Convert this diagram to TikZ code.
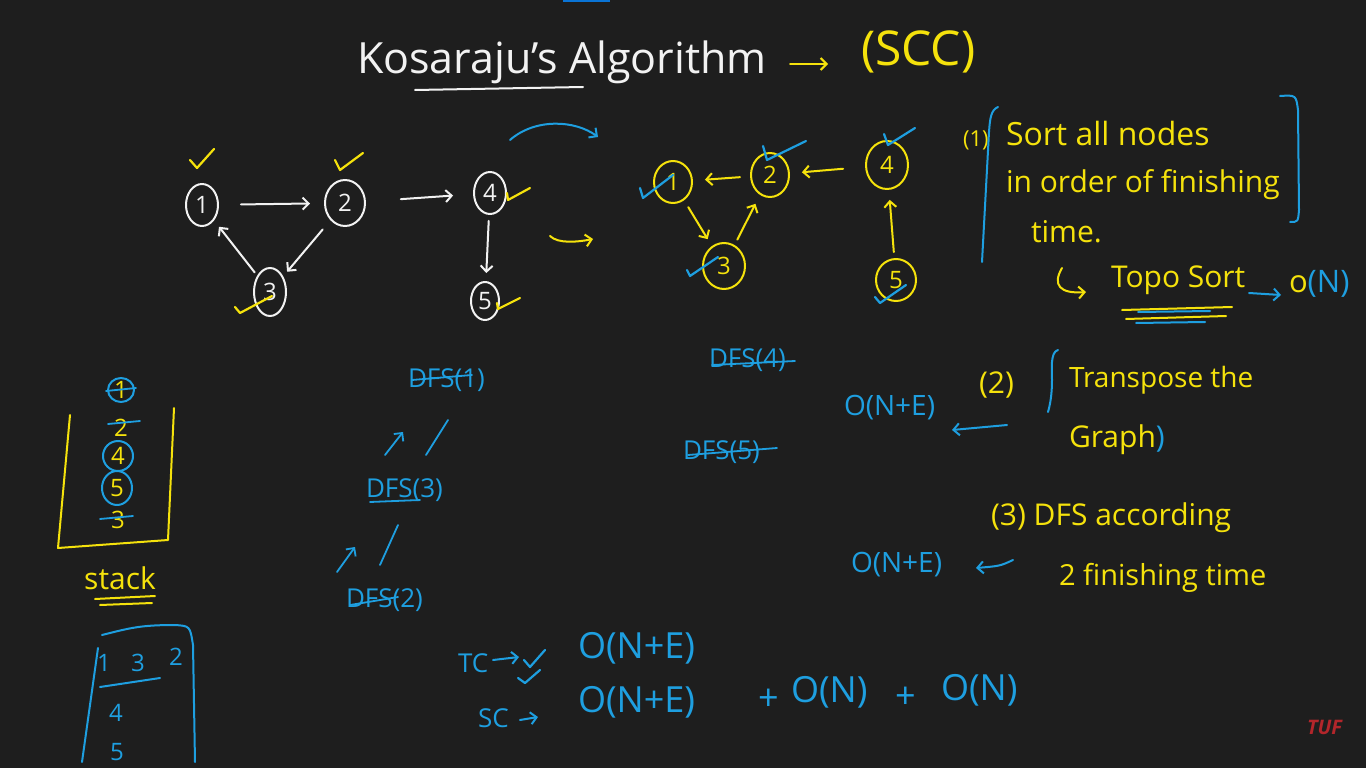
\documentclass[tikz,border=0pt]{standalone}
\usepackage{fontspec}
\setmainfont{Open Sans}
\usetikzlibrary{arrows.meta, shapes.geometric}
\definecolor{board}{HTML}{1E1E1E}
\definecolor{chalk}{HTML}{F2F2F2}
\definecolor{cyellow}{HTML}{F5E20C}
\definecolor{cblue}{HTML}{1E9FE0}
\definecolor{cred}{HTML}{B3262B}
\definecolor{cbar}{HTML}{0A74D6}
\newcommand{\handsz}[1]{\fontsize{#1}{#1}\selectfont}
\tikzset{
  every picture/.style={line width=2pt, line cap=round, line join=round},
  vtx/.style={draw=#1, text=#1, ellipse, minimum width=32pt, minimum height=42pt, inner sep=0pt, font=\handsz{24}},
  vtx/.default=chalk,
  link/.style={draw=#1, -{Straight Barb[length=6pt, width=12pt]}, shorten <=10pt, shorten >=10pt},
  link/.default=chalk,
  chk/.style={draw=#1, line width=2.2pt},
  hand/.style={text=#1, inner sep=0pt, anchor=west, font=\handsz{30}},
  hand/.default=cyellow,
  strike/.style={draw=cblue, line width=1.8pt},
}

\begin{document}
\begin{tikzpicture}[x=1pt, y=-1pt]
  \fill[board] (0,0) rectangle (1366,768);
  \useasboundingbox (0,0) rectangle (1366,768);
  \fill[cbar] (563,0) rectangle (610,2);

  % title
  \node[hand=chalk, font=\handsz{43}] (title) at (356,62) {Kosaraju's Algorithm};
  \draw[chalk] (415,90) -- (583,87);
  \coordinate (ta) at (790,64);
  \coordinate (tb) at (828,64);
  \draw[link=cyellow, shorten <=0pt, shorten >=0pt] (ta) -- (tb);
  \node[hand, font=\handsz{48}] (scc) at (860,52) {(SCC)};

  % original graph
  \node[vtx] (a1) at (202,205) {1};
  \node[vtx, minimum width=40pt, minimum height=46pt] (a2) at (345,203) {2};
  \node[vtx] (a4) at (490,193) {4};
  \node[vtx, minimum width=28pt, minimum height=38pt] (a5) at (485,301) {5};
  \node[vtx, minimum height=48pt] (a3) at (270,292) {3};
  \draw[link, shorten <=22pt, shorten >=14pt] (a1) -- (a2);
  \draw[link, shorten <=35pt, shorten >=20pt] (a2) -- (a4);
  \draw[link, shorten <=12pt, shorten >=6pt] (a2) -- (a3);
  \draw[link, shorten <=4pt, shorten >=8pt] (a3) -- (a1);
  \draw[link, shorten <=6pt, shorten >=8pt] (a4) -- (a5);
  \draw[chk=cyellow] (190,160) -- (197,168) -- (214,149);
  \draw[chk=cyellow] (335,160) -- (340,170) -- (363,153);
  \draw[chk=cyellow] (235,307) -- (240,313) -- (272,296);
  \draw[chk=cyellow] (507,193) -- (508,200) -- (530,188);
  \draw[chk=cyellow] (497,303) -- (498,309) -- (520,298);
  \coordinate (ca) at (510,140);
  \coordinate (cb) at (598,137);
  \draw[link=cblue, shorten <=0pt, shorten >=0pt] (ca) .. controls (535,118) and (575,120) .. (cb);
  \coordinate (ya) at (550,236);
  \coordinate (yb) at (593,239);
  \draw[link=cyellow, shorten <=0pt, shorten >=0pt] (ya) .. controls (558,244) and (578,242) .. (yb);

  % transposed graph
  \node[vtx=cyellow, minimum width=38pt] (b1) at (673,182) {1};
  \node[vtx=cyellow, minimum width=38pt, minimum height=44pt] (b2) at (770,175) {2};
  \node[vtx=cyellow, minimum width=42pt, minimum height=48pt] (b4) at (887,165) {4};
  \node[vtx=cyellow, minimum width=42pt, minimum height=46pt] (b3) at (724,266) {3};
  \node[vtx=cyellow, minimum width=40pt] (b5) at (896,280) {5};
  \draw[link=cyellow, shorten <=10pt, shorten >=12pt] (b2) -- (b1);
  \draw[link=cyellow, shorten <=22pt, shorten >=12pt] (b4) -- (b2);
  \draw[link=cyellow, shorten <=8pt, shorten >=8pt] (b1) -- (b3);
  \draw[link=cyellow, shorten <=6pt, shorten >=10pt] (b3) -- (b2);
  \draw[link=cyellow, shorten <=6pt, shorten >=10pt] (b5) -- (b4);
  \draw[chk=cblue] (640,188) -- (643,198) -- (673,175);
  \draw[chk=cblue] (763,146) -- (767,160) -- (806,141);
  \draw[chk=cblue] (884,134) -- (888,145) -- (915,128);
  \draw[chk=cblue] (687,270) -- (690,276) -- (718,257);
  \draw[chk=cblue] (875,297) -- (880,303) -- (906,285);

  % step 1
  \node[hand, font=\handsz{22}] (one) at (962,140) {(1)};
  \draw[cblue] (998,107) .. controls (991,110) and (990,118) .. (989,132) -- (982,262);
  \draw[cblue] (1280,96) .. controls (1296,95) .. (1298,110) -- (1299,210) .. controls (1298,222) .. (1290,222);
  \node[hand, font=\handsz{32}] (s1a) at (1005,133) {Sort all nodes};
  \node[hand] (s1b) at (1005,185) {in order of finishing};
  \node[hand] (s1c) at (1030,232) {time.};
  \coordinate (ha) at (1062,268);
  \coordinate (hb) at (1086,292);
  \draw[link=cyellow, shorten <=0pt, shorten >=0pt] (ha) .. controls (1052,285) and (1060,294) .. (hb);
  \node[hand, font=\handsz{30}] (topo) at (1110,280) {Topo Sort};
  \draw[cyellow] (1122,310) -- (1232,307);
  \draw[cblue] (1138,312) -- (1210,311);
  \draw[cyellow] (1126,319) -- (1226,316);
  \draw[cblue] (1136,323) -- (1205,322);
  \coordinate (oa) at (1249,293);
  \coordinate (ob) at (1281,295);
  \draw[link=cblue, shorten <=0pt, shorten >=0pt] (oa) -- (ob);
  \node[hand=cblue, font=\handsz{31}] (topon) at (1288,284) {\textcolor{cyellow}{o}(N)};

  % step 2
  \node[hand, font=\handsz{30}] (two) at (978,385) {(2)};
  \draw[cblue] (1058,350) .. controls (1050,352) and (1052,370) .. (1052,380) .. controls (1052,395) and (1050,405) .. (1048,412);
  \node[hand, font=\handsz{28}] (s2a) at (1068,380) {Transpose the};
  \node[hand, font=\handsz{30}] (s2b) at (1068,440) {Graph\textcolor{cblue}{)}};
  \node[hand=cblue, font=\handsz{28}] (c2) at (843,408) {O(N+E)};
  \coordinate (aa) at (1007,425);
  \coordinate (ab) at (952,430);
  \draw[link=cblue, shorten <=0pt, shorten >=0pt] (aa) -- (ab);

  % step 3
  \node[hand, font=\handsz{30}] (s3a) at (990,518) {(3) DFS according};
  \node[hand, font=\handsz{29}] (s3b) at (1058,578) {2 finishing time};
  \node[hand=cblue, font=\handsz{28}] (c3) at (850,565) {O(N+E)};
  \coordinate (ba) at (1013,560);
  \coordinate (bb) at (976,568);
  \draw[link=cblue, shorten <=0pt, shorten >=0pt] (ba) .. controls (1000,566) .. (bb);

  % stack
  \draw[cyellow] (70,415) -- (58,548) -- (168,540) -- (174,408);
  \node[hand, anchor=center, font=\handsz{24}] (k1) at (121,390) {1};
  \node[hand, anchor=center, font=\handsz{24}] (k2) at (121,428) {2};
  \node[hand, anchor=center, font=\handsz{24}] (k4) at (118,456) {4};
  \node[hand, anchor=center, font=\handsz{24}] (k5) at (117,488) {5};
  \node[hand, anchor=center, font=\handsz{24}] (k3) at (118,520) {3};
  \draw[cblue] (k1) ellipse (13 and 12);
  \draw[strike] (106,391) -- (136,388);
  \draw[strike] (108,424) -- (140,421);
  \draw[cblue] (k4) ellipse (15 and 15);
  \draw[cblue] (k5) ellipse (15 and 17);
  \draw[strike] (100,519) -- (133,516);
  \node[hand, anchor=center, font=\handsz{30}] (stk) at (120,578) {stack};
  \draw[cyellow] (95,599) -- (155,596);
  \draw[cyellow] (100,605) -- (152,603);

  % component list
  \draw[cblue] (102,635) .. controls (130,628) and (140,625) .. (175,625) .. controls (190,626) .. (193,645) -- (195,762);
  \draw[cblue] (98,648) -- (82,762);
  \node[hand=cblue, anchor=center, font=\handsz{24}] (r1) at (104,663) {1};
  \node[hand=cblue, anchor=center, font=\handsz{24}] (r3) at (138,663) {3};
  \node[hand=cblue, anchor=center, font=\handsz{24}] (r2) at (176,657) {2};
  \draw[cblue] (100,687) -- (160,678);
  \node[hand=cblue, anchor=center, font=\handsz{24}] (r4) at (116,713) {4};
  \node[hand=cblue, anchor=center, font=\handsz{24}] (r5) at (117,752) {5};

  % dfs calls
  \node[hand=cblue, font=\handsz{26}] (d1) at (407,380) {DFS(1)};
  \draw[strike] (412,380) -- (472,375);
  \coordinate (u1) at (385,455);
  \coordinate (u2) at (403,432);
  \draw[link=cblue, shorten <=0pt, shorten >=0pt, line width=1.8pt] (u1) -- (u2);
  \draw[cblue, line width=1.8pt] (426,455) -- (448,420);
  \node[hand=cblue, font=\handsz{26}] (d3) at (365,490) {DFS(3)};
  \draw[strike] (370,502) -- (420,500);
  \coordinate (v1) at (337,572);
  \coordinate (v2) at (355,547);
  \draw[link=cblue, shorten <=0pt, shorten >=0pt, line width=1.8pt] (v1) -- (v2);
  \draw[cblue, line width=1.8pt] (380,565) -- (398,525);
  \node[hand=cblue, font=\handsz{26}] (d2) at (345,600) {DFS(2)};
  \draw[strike] (350,605) -- (398,597);
  \node[hand=cblue, font=\handsz{26}] (d4) at (708,360) {DFS(4)};
  \draw[strike] (712,365) -- (795,361);
  \node[hand=cblue, font=\handsz{26}] (d5) at (682,452) {DFS(5)};
  \draw[strike] (688,455) -- (777,448);

  % complexity
  \node[hand=cblue, font=\handsz{26}] (tc) at (457,663) {TC};
  \coordinate (w1) at (493,660);
  \coordinate (w2) at (519,657);
  \draw[link=cblue, shorten <=0pt, shorten >=0pt] (w1) -- (w2);
  \draw[chk=cblue] (524,660) -- (530,667) -- (545,650);
  \draw[chk=cblue] (518,678) -- (525,683) -- (540,670);
  \node[hand=cblue, font=\handsz{36}] (tcv) at (577,648) {O(N+E)};
  \node[hand=cblue, font=\handsz{26}] (sc) at (477,718) {SC};
  \coordinate (z1) at (520,720);
  \coordinate (z2) at (538,717);
  \draw[link=cblue, shorten <=0pt, shorten >=0pt] (z1) -- (z2);
  \node[hand=cblue, font=\handsz{36}] (scv) at (577,702) {O(N+E)};
  \node[hand=cblue, font=\handsz{36}] (scp1) at (757,700) {+};
  \node[hand=cblue, font=\handsz{36}] (scn1) at (790,692) {O(N)};
  \node[hand=cblue, font=\handsz{36}] (scp2) at (894,698) {+};
  \node[hand=cblue, font=\handsz{36}] (scn2) at (940,690) {O(N)};

  \node[hand=cred, font=\handsz{20}\bfseries\itshape] (logo) at (1306,727) {TUF};
\end{tikzpicture}
\end{document}
